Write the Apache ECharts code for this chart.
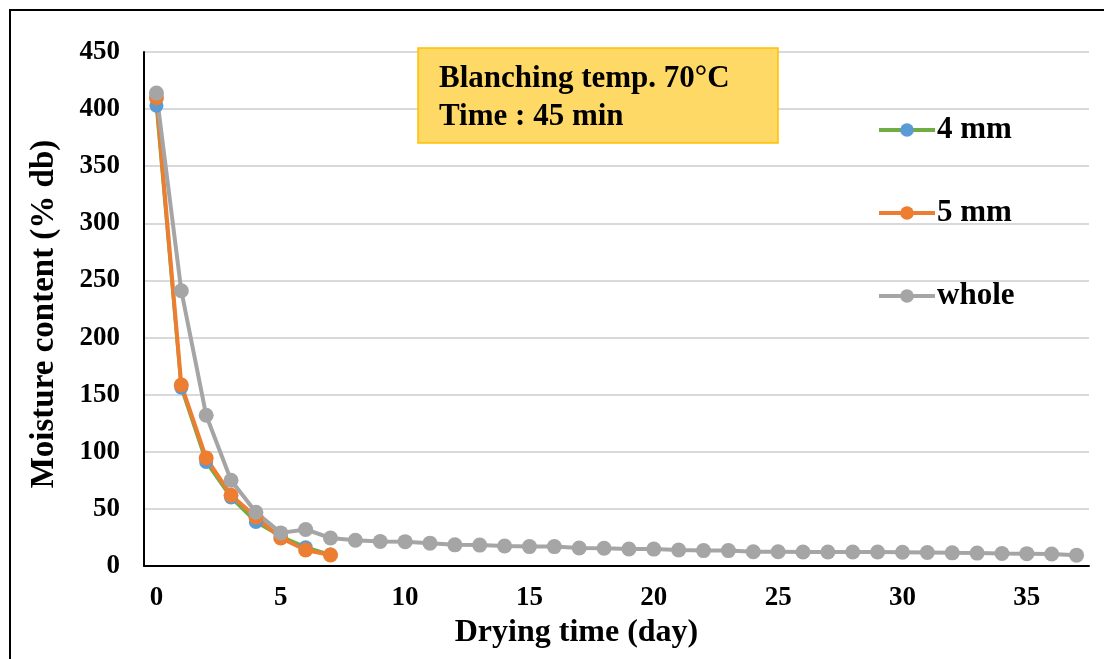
<!DOCTYPE html>
<html>
<head>
<meta charset="utf-8">
<script src="https://cdn.jsdelivr.net/npm/echarts@6/dist/echarts.min.js"></script>
<style>
  html, body { margin: 0; padding: 0; background: #fff; }
  #chart { width: 1104px; height: 659px; }
</style>
</head>
<body>
<div id="chart"></div>
<script>
// drying time (day) categories 0..37
var days = [];
for (var d = 0; d <= 37; d++) days.push(String(d));

var mc4mm = [403, 156, 91, 60, 38.5, 26, 16.5, 10];
var mc5mm = [410, 158.5, 94.5, 62, 43, 24.5, 14, 9.6];
var mcWhole = [414, 241, 132, 75, 47, 29, 32, 24.5, 22.5, 21.5, 21.3, 20, 18.5, 18.3,
  17.5, 17, 17, 15.7, 15.5, 14.9, 14.8, 14, 13.5, 13.5, 12.5, 12.5, 12.3, 12.3,
  12.2, 12.2, 12, 11.8, 11.5, 11.3, 11, 10.8, 10.5, 9.5];

var fontFam = '"Liberation Serif", "Times New Roman", serif';

var myChart = echarts.init(document.getElementById('chart'));
var option = {
  backgroundColor: '#fff',
  animation: false,
  grid: { left: 144, right: 15, top: 52, bottom: 93 },
  legend: {
    orient: 'vertical',
    left: 877,
    top: 113,
    padding: 0,
    itemWidth: 56,
    itemHeight: 17,
    itemGap: 49,
    lineStyle: { width: 4 },
    textStyle: { fontFamily: fontFam, fontWeight: 'bold', fontSize: 31, color: '#000', lineHeight: 34, padding: [0, 0, 0, -3] },
    data: ['4 mm', '5 mm', 'whole']
  },
  xAxis: {
    type: 'category',
    data: days,
    boundaryGap: true,
    name: 'Drying time (day)',
    nameLocation: 'middle',
    nameGap: 51,
    nameTextStyle: { fontFamily: fontFam, fontWeight: 'bold', fontSize: 32, color: '#000', padding: [0, 80, 0, 0] },
    axisLine: { lineStyle: { color: '#000', width: 2 } },
    axisTick: { show: false },
    axisLabel: { interval: 4, margin: 19, fontFamily: fontFam, fontWeight: 'bold', fontSize: 27, color: '#000' }
  },
  yAxis: {
    type: 'value',
    min: 0,
    max: 450,
    interval: 50,
    name: 'Moisture content (% db)',
    nameLocation: 'middle',
    nameGap: 83,
    nameTextStyle: { fontFamily: fontFam, fontWeight: 'bold', fontSize: 33, color: '#000', padding: [0, 10, 0, 0] },
    axisLine: { show: true, lineStyle: { color: '#000', width: 2 } },
    axisTick: { show: false },
    axisLabel: { margin: 24, fontFamily: fontFam, fontWeight: 'bold', fontSize: 27, color: '#000' },
    splitLine: { lineStyle: { color: '#D9D9D9', width: 2 } }
  },
  graphic: [
    {
      type: 'rect',
      shape: { x: 10, y: 10, width: 1200, height: 700 },
      style: { fill: 'none', stroke: '#000', lineWidth: 2 },
      silent: true
    },
    {
      type: 'rect',
      shape: { x: 418, y: 48, width: 360, height: 95 },
      style: { fill: '#FFD966', stroke: '#FFC000', lineWidth: 1.5 },
      z: 10
    },
    {
      type: 'text',
      x: 439, y: 79,
      style: { text: 'Blanching temp. 70°C', fontFamily: fontFam, fontWeight: 'bold', fontSize: 31, fill: '#000', verticalAlign: 'middle' },
      z: 11
    },
    {
      type: 'text',
      x: 439, y: 117,
      style: { text: 'Time : 45 min', fontFamily: fontFam, fontWeight: 'bold', fontSize: 31, fill: '#000', verticalAlign: 'middle' },
      z: 11
    }
  ],
  series: [
    {
      name: '4 mm',
      type: 'line',
      data: mc4mm,
      symbol: 'circle',
      symbolSize: 14,
      itemStyle: { color: '#5B9BD5' },
      lineStyle: { color: '#70AD47', width: 3.5 }
    },
    {
      name: '5 mm',
      type: 'line',
      data: mc5mm,
      symbol: 'circle',
      symbolSize: 15,
      itemStyle: { color: '#ED7D31' },
      lineStyle: { color: '#ED7D31', width: 4 }
    },
    {
      name: 'whole',
      type: 'line',
      data: mcWhole,
      symbol: 'circle',
      symbolSize: 15,
      itemStyle: { color: '#A5A5A5' },
      lineStyle: { color: '#A5A5A5', width: 4 }
    }
  ]
};
myChart.setOption(option);
</script>
</body>
</html>
